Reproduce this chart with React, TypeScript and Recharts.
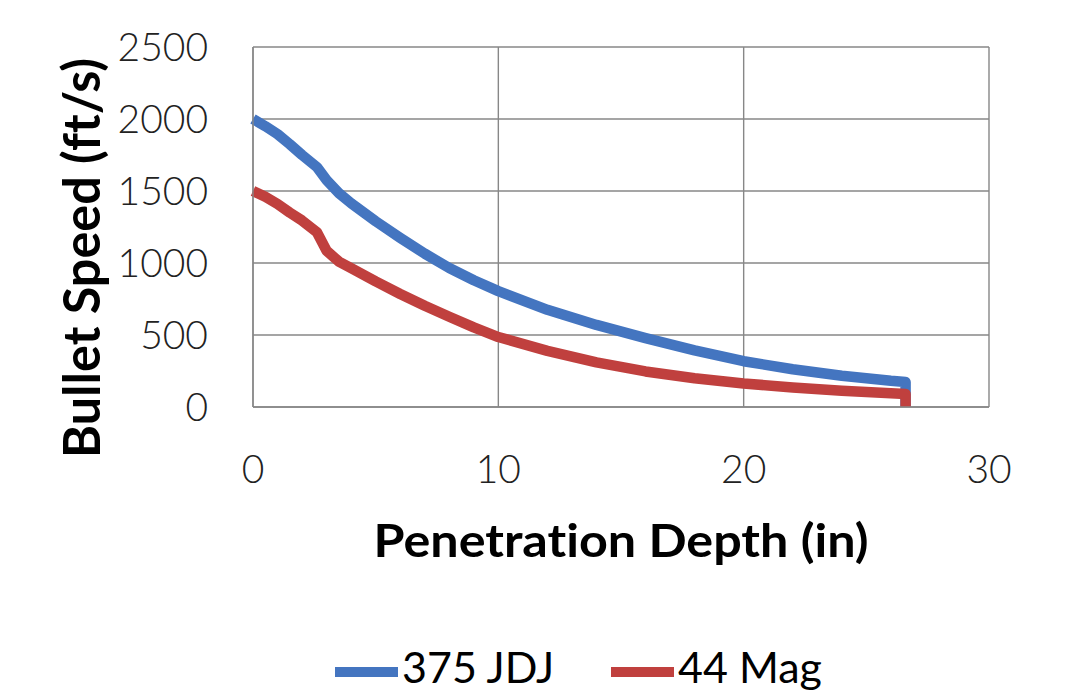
import React from "react";
import { LineChart, Line, XAxis, YAxis, CartesianGrid, Legend } from "recharts";

const depth = [0, 0.5, 1, 1.5, 2, 2.6, 3.0, 3.5, 4, 5, 6, 7, 8, 9, 10, 12, 14, 16, 18, 20, 22, 24, 26, 26.6, 26.6];
const jdj375 = [2000, 1950, 1895, 1825, 1750, 1667, 1575, 1485, 1415, 1290, 1175, 1065, 965, 880, 805, 675, 570, 478, 393, 318, 262, 217, 182, 174, 0];
const mag44 = [1500, 1460, 1410, 1350, 1295, 1215, 1085, 1010, 965, 872, 785, 703, 627, 553, 486, 390, 310, 247, 200, 163, 136, 113, 96, 91, 0];

const xTicks = [0, 10, 20, 30];
const yTicks = [0, 500, 1000, 1500, 2000, 2500];

const seriesNames = ["375 JDJ", "44 Mag"];
const seriesColors = ["#4475c0", "#c0403e"];

const data = depth.map((d, i) => ({ depth: d, jdj: jdj375[i], mag: mag44[i] }));

const FONT = "Lato, 'Open Sans', sans-serif";

const YTitle = (props: any) => {
  const vb = props.viewBox || {};
  const cx = vb.x + vb.width - 153;
  const cy = vb.y + vb.height / 2 + 31;
  return (
    <text
      x={cx}
      y={cy}
      transform={`rotate(-90, ${cx}, ${cy})`}
      textAnchor="middle"
      fontFamily={FONT}
      fontWeight={700}
      fontSize={52}
      fill="#000"
      textLength={400}
      lengthAdjust="spacingAndGlyphs"
      style={{ fontVariantLigatures: "none" }}
    >
      Bullet Speed (ft/s)
    </text>
  );
};

const XTitle = (props: any) => {
  const vb = props.viewBox || {};
  const cx = vb.x + vb.width / 2;
  const cy = vb.y + 150;
  return (
    <text
      x={cx}
      y={cy}
      textAnchor="middle"
      fontFamily={FONT}
      fontWeight={700}
      fontSize={46}
      fill="#000"
      textLength={495}
      lengthAdjust="spacingAndGlyphs"
      style={{ fontVariantLigatures: "none" }}
    >
      Penetration Depth (in)
    </text>
  );
};

const LegendContent = () => (
  <div
    style={{
      display: "flex",
      alignItems: "center",
      height: 36,
      marginLeft: 327,
      fontFamily: FONT,
      fontSize: 43,
      color: "#000",
      lineHeight: "36px",
    }}
  >
    {seriesNames.map((n, i) => (
      <div key={n} style={{ display: "flex", alignItems: "center", marginRight: i === 0 ? 57 : 0 }}>
        <div style={{ width: 63, height: 10, background: seriesColors[i], marginRight: 4 }} />
        <span style={{ position: "relative", top: -5 }}>{n}</span>
      </div>
    ))}
  </div>
);

export default function App() {
  return (
    <div style={{ width: 1053, height: 682, background: "#fff" }}>
      <LineChart
        width={1053}
        height={682}
        data={data}
        margin={{ top: 39, right: 72, bottom: 0, left: 45 }}
      >
        <CartesianGrid stroke="#878787" strokeWidth={1.4} />
        <XAxis
          dataKey="depth"
          type="number"
          domain={[0, 30]}
          ticks={xTicks}
          height={247}
          tickSize={0}
          tickMargin={48}
          tickLine={false}
          axisLine={{ stroke: "#878787", strokeWidth: 1.4 }}
          tick={{ fontFamily: FONT, fontSize: 39, fontWeight: 300, fill: "#222" }}
          label={<XTitle />}
        />
        <YAxis
          type="number"
          domain={[0, 2500]}
          ticks={yTicks}
          width={200}
          tickSize={0}
          tickMargin={45}
          tickLine={false}
          axisLine={{ stroke: "#878787", strokeWidth: 1.4 }}
          tick={{ fontFamily: FONT, fontSize: 39, fontWeight: 300, fill: "#222" }}
          label={<YTitle />}
        />
        <Legend verticalAlign="bottom" height={36} wrapperStyle={{ left: 0, width: 1053 }} content={<LegendContent />} />
        <Line
          dataKey="jdj"
          name={seriesNames[0]}
          type="linear"
          stroke={seriesColors[0]}
          strokeWidth={10.5}
          dot={false}
          strokeLinejoin="round"
          isAnimationActive={false}
        />
        <Line
          dataKey="mag"
          name={seriesNames[1]}
          type="linear"
          stroke={seriesColors[1]}
          strokeWidth={10.5}
          dot={false}
          strokeLinejoin="round"
          isAnimationActive={false}
        />
      </LineChart>
    </div>
  );
}
